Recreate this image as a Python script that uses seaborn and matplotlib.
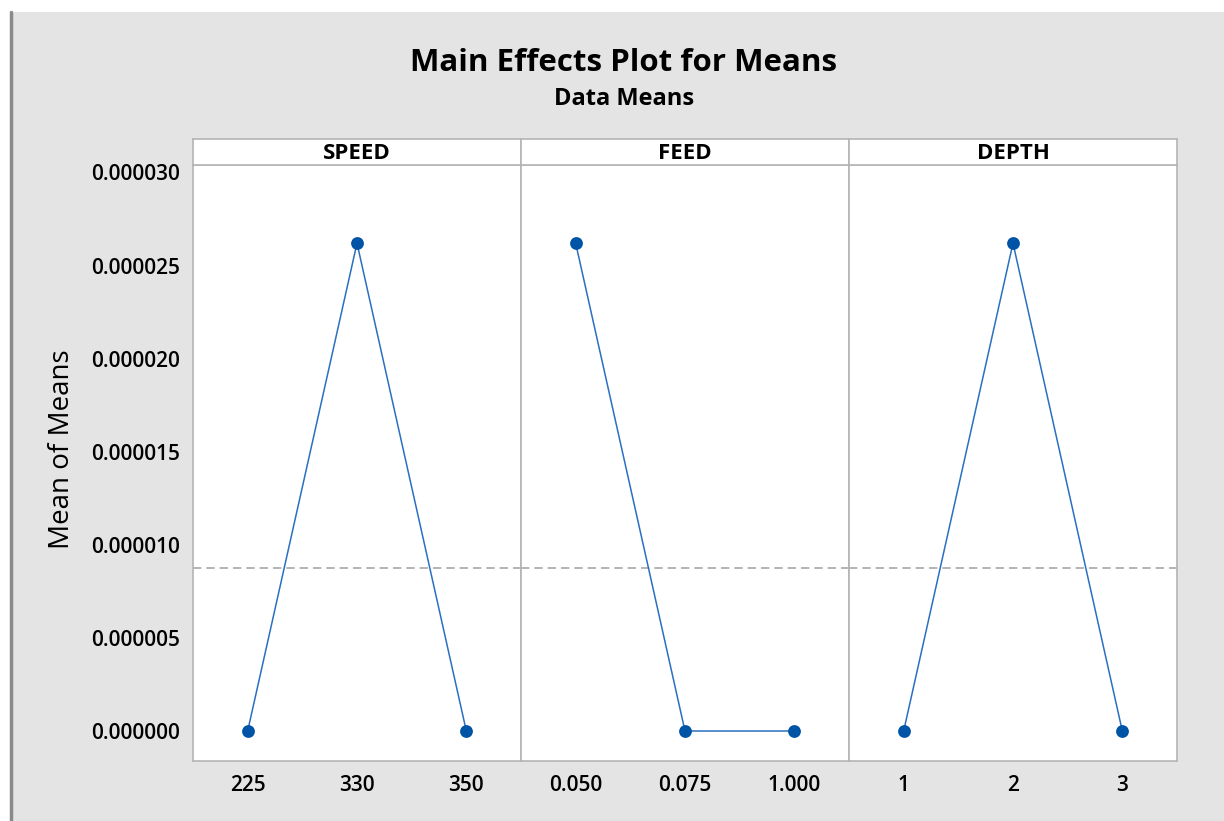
import numpy as np
import pandas as pd
import matplotlib
matplotlib.use("Agg")
import matplotlib.pyplot as plt
from matplotlib.ticker import FormatStrFormatter
from matplotlib.patches import Rectangle
import seaborn as sns


factors = ["SPEED", "FEED", "DEPTH"]

speed_levels = ["225", "330", "350"]
feed_levels = ["0.050", "0.075", "1.000"]
depth_levels = ["1", "2", "3"]

speed_means = [0.00000001, 0.0000262, 0.00000001]
feed_means = [0.0000262, 0.00000001, 0.00000001]
depth_means = [0.00000001, 0.0000262, 0.00000001]

y_ticks = [0.0, 0.000005, 0.00001, 0.000015, 0.00002, 0.000025, 0.00003]

levels = {"SPEED": speed_levels, "FEED": feed_levels, "DEPTH": depth_levels}
means = {"SPEED": speed_means, "FEED": feed_means, "DEPTH": depth_means}

rows = []
for f in factors:
    for lv, m in zip(levels[f], means[f]):
        rows.append({"factor": f, "level": lv, "mean": m})
df = pd.DataFrame(rows)

grand_mean = np.mean(speed_means)

sns.set_style("white")
plt.rcParams["font.family"] = ["Open Sans", "DejaVu Sans"]
plt.rcParams["text.color"] = "black"
plt.rcParams["xtick.color"] = "black"
plt.rcParams["ytick.color"] = "black"

BG = "#e4e4e4"
EDGE = "#b4b4b4"
POINT = "#0054a6"
LINE = "#2a6fc0"

fig, axes = plt.subplots(1, 3, figsize=(12.24, 8.21), dpi=100, sharey=True)
fig.patch.set_facecolor("white")
fig.patches.append(Rectangle((12 / 1224, 0), 1, 1 - 12 / 821,
                             transform=fig.transFigure, facecolor=BG,
                             edgecolor="none", zorder=-10))
fig.add_artist(plt.Line2D([11 / 1224, 11 / 1224], [0, 1 - 12 / 821],
                          transform=fig.transFigure, color="#8a8a8a", lw=2.5))

fig.subplots_adjust(left=193 / 1224, right=1177 / 1224,
                    bottom=1 - 761 / 821, top=1 - 165 / 821, wspace=0)

for ax, f in zip(axes, factors):
    sub = df[df["factor"] == f]
    ax.set_facecolor("white")
    ax.axhline(grand_mean, color="#a8a8a8", lw=1.2, ls=(0, (5, 3)), zorder=1)
    sns.lineplot(data=sub, x="level", y="mean", ax=ax, color=LINE,
                 lw=1.1, sort=False, zorder=2)
    sns.scatterplot(data=sub, x="level", y="mean", ax=ax, color=POINT,
                    s=85, edgecolor=POINT, linewidth=0, zorder=3)
    ax.set_xlim(-0.5, 2.5)
    ax.set_ylim(-0.0000016, 0.0000304)
    ax.set_xlabel("")
    ax.set_ylabel("")
    for sp in ax.spines.values():
        sp.set_color(EDGE)
        sp.set_linewidth(1.2)
    ax.tick_params(axis="x", length=5, width=1, color=EDGE, labelsize=15,
                   labelcolor="black", pad=5)
    for lab in ax.get_xticklabels():
        lab.set_fontweight("semibold")

    # strip header
    pos = ax.get_position()
    sax = fig.add_axes([pos.x0, pos.y1, pos.width, 26 / 821])
    sax.set_facecolor("white")
    sax.set_xticks([])
    sax.set_yticks([])
    for sp in sax.spines.values():
        sp.set_color(EDGE)
        sp.set_linewidth(1.2)
    sax.text(0.5, 0.45, f, ha="center", va="center", fontsize=16,
             fontweight="bold", transform=sax.transAxes)

axes[0].set_yticks(y_ticks)
axes[0].yaxis.set_major_formatter(FormatStrFormatter("%.6f"))
axes[0].tick_params(axis="y", length=6, width=1, color=EDGE, labelsize=15,
                    labelcolor="black", pad=3)
for lab in axes[0].get_yticklabels():
    lab.set_fontweight("semibold")
for ax in axes[1:]:
    ax.tick_params(axis="y", left=False)

fig.text(62 / 1224, 1 - 449 / 821, "Mean of Means", rotation=90,
         ha="center", va="center", fontsize=20)
fig.text(624 / 1224, 1 - 63 / 821, "Main Effects Plot for Means",
         ha="center", va="center", fontsize=22.5, fontweight="bold")
fig.text(624 / 1224, 1 - 99 / 821, "Data Means",
         ha="center", va="center", fontsize=17, fontweight="bold")

plt.savefig("out.png", dpi=100, facecolor=fig.get_facecolor())
